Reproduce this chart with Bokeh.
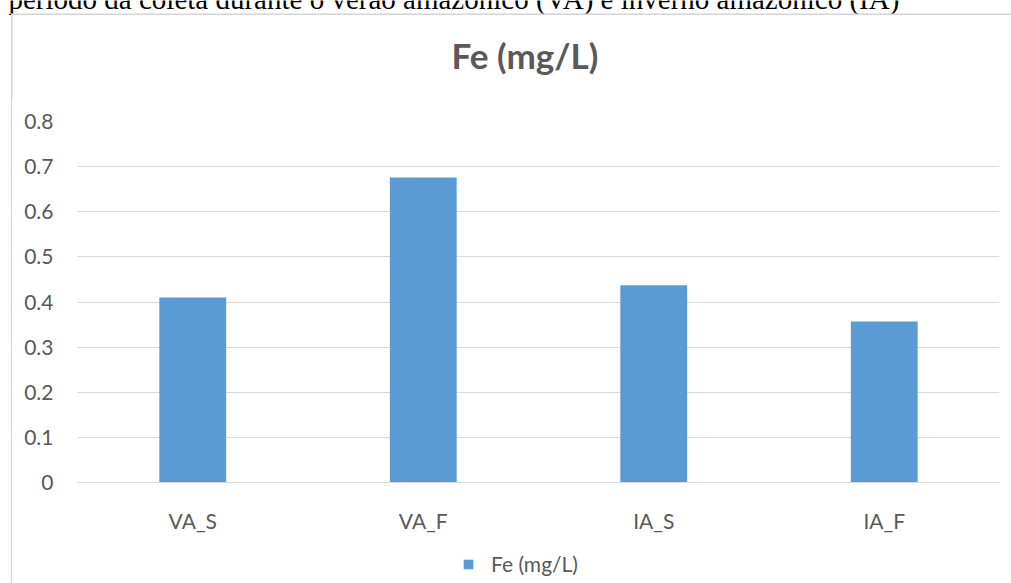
from bokeh.plotting import figure
from bokeh.models import FactorRange, Range1d, Legend, LegendItem, ColumnDataSource, FixedTicker
from bokeh.layouts import column, row
from bokeh.core.properties import value
from bokeh.embed import file_html
from bokeh.resources import INLINE

categories = ["VA_S", "VA_F", "IA_S", "IA_F"]
fe_values = [0.41, 0.676, 0.437, 0.357]
y_ticks = [0, 0.1, 0.2, 0.3, 0.4, 0.5, 0.6, 0.7, 0.8]
y_tick_labels = ["0", "0.1", "0.2", "0.3", "0.4", "0.5", "0.6", "0.7", "0.8"]
series_name = "Fe (mg/L)"
chart_title = "Fe (mg/L)"
caption = "período da coleta durante o verão amazônico (VA) e inverno amazônico (IA)"

TEXT = "#595959"
GRID = "#d9d9d9"
BORDER = "#d4d4d4"
BAR = "#5B9BD5"
FONT = "Lato"

W, H = 1011, 583
TOP_H = 100          # strip holding the cut caption, chart border top and title
LEFT_W = 12          # strip holding the chart border's left line
LEG_H = 40           # strip holding the legend
MAIN_H = H - TOP_H


def strip(w, h):
    f = figure(title=None, frame_width=w, frame_height=h, x_range=Range1d(0, w), y_range=Range1d(h, 0),
               output_backend="svg", toolbar_location=None,
               min_border=0, min_border_left=0, min_border_right=0, min_border_top=0, min_border_bottom=0)
    f.axis.visible = False
    f.grid.visible = False
    f.outline_line_color = None
    f.background_fill_color = "white"
    f.border_fill_color = "white"
    return f


top = strip(W, TOP_H)
top.text(x=[8], y=[-2], text=[caption], text_font=value("Liberation Serif"),
         text_font_size="29px", text_color="black", text_baseline="alphabetic")
top.segment(x0=[11], y0=[13.75], x1=[W], y1=[13.75], line_color=BORDER, line_width=1.5)
top.segment(x0=[11.25], y0=[13], x1=[11.25], y1=[TOP_H + 1], line_color=BORDER, line_width=1.5)
top.text(x=[524.5], y=[54], text=[chart_title], text_font=value(FONT), text_font_size="35px",
         text_font_style="bold", text_color=TEXT, text_align="center", text_baseline="middle")

left = strip(LEFT_W, MAIN_H)
left.align = "start"
left.segment(x0=[11.25], y0=[-1], x1=[11.25], y1=[MAIN_H + 1], line_color=BORDER, line_width=1.5)

# main chart
p = figure(title=None, x_range=FactorRange(*categories), y_range=Range1d(0, 0.8),
           frame_width=922, frame_height=361, output_backend="svg", toolbar_location=None,
           min_border_left=65, min_border_right=12, min_border_top=21, min_border_bottom=MAIN_H - 21 - 361 - LEG_H)

src = ColumnDataSource(dict(cat=categories, val=fe_values))
r = p.vbar(x="cat", top="val", width=0.29, source=src, fill_color=BAR, line_color=None)

p.outline_line_color = None
p.xgrid.grid_line_color = None
p.ygrid.grid_line_color = GRID
p.ygrid.grid_line_width = 1

p.yaxis.ticker = FixedTicker(ticks=y_ticks)
p.yaxis.major_label_overrides = {t: l for t, l in zip(y_ticks, y_tick_labels)}
p.yaxis.axis_line_color = None
p.yaxis.major_tick_line_color = None
p.yaxis.minor_tick_line_color = None
p.yaxis.major_tick_out = 0
p.yaxis.major_tick_in = 0
p.yaxis.minor_tick_out = 0
p.yaxis.major_label_standoff = 24
p.yaxis.major_label_text_font = FONT
p.yaxis.major_label_text_font_size = "21px"
p.yaxis.major_label_text_color = TEXT

p.xaxis.axis_line_color = GRID
p.xaxis.major_tick_line_color = None
p.xaxis.minor_tick_line_color = None
p.xaxis.major_tick_out = 0
p.xaxis.major_tick_in = 0
p.xaxis.major_label_standoff = 25
p.xaxis.major_label_text_font = FONT
p.xaxis.major_label_text_font_size = "21px"
p.xaxis.major_label_text_color = TEXT

# legend strip: swatch from a zero-height renderer with the same bar style
leg = strip(W - LEFT_W, LEG_H)
swatch = leg.vbar(x=[0], top=[0], bottom=[0], width=0, fill_color=BAR, line_color=None)
legend = Legend(items=[LegendItem(label=series_name, renderers=[swatch])], location=(450, 7),
                orientation="horizontal", glyph_width=12, glyph_height=12, label_standoff=17,
                padding=0, margin=0, border_line_color=None, background_fill_alpha=0,
                label_text_font=FONT, label_text_font_size="21px", label_text_color=TEXT)
leg.add_layout(legend)

layout = column(top, row(left, column(p, leg, spacing=0), spacing=0), spacing=0)

open("out.html", "w").write(file_html(layout, INLINE))
